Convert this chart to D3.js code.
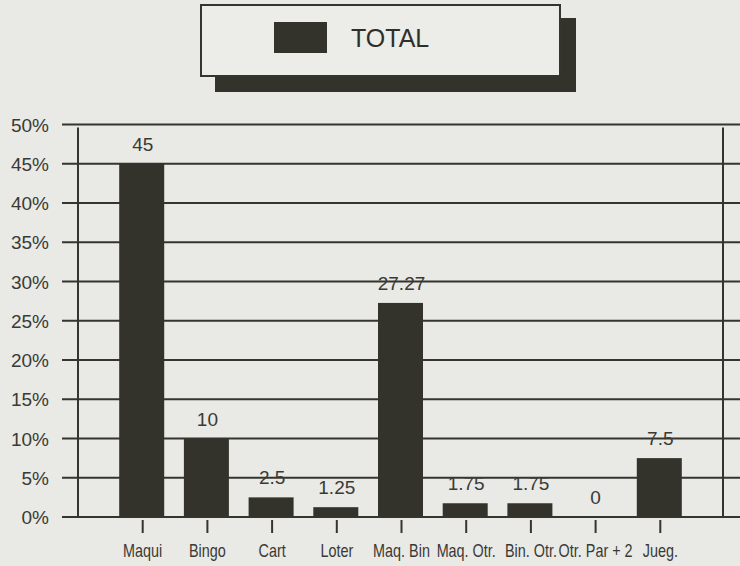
<!DOCTYPE html>
<html>
<head>
<meta charset="utf-8">
<script src="https://cdn.jsdelivr.net/npm/d3@7"></script>
<style>
  body { margin: 0; background: #e9e9e5; }
  svg { display: block; }
</style>
</head>
<body>
<script>
// chart data
var categories = ["Maqui", "Bingo", "Cart", "Loter", "Maq. Bin", "Maq. Otr.", "Bin. Otr.", "Otr. Par + 2", "Jueg."];
var values = [45, 10, 2.5, 1.25, 27.27, 1.75, 1.75, 0, 7.5];
var valueLabels = ["45", "10", "2.5", "1.25", "27.27", "1.75", "1.75", "0", "7.5"];
var yTicks = [0, 5, 10, 15, 20, 25, 30, 35, 40, 45, 50];
var seriesName = "TOTAL";

var W = 740, H = 566;
var ink = "#35352e";
var font = "Liberation Sans, Arial, sans-serif";

var svg = d3.select("body").append("svg")
    .attr("width", W)
    .attr("height", H);

// scales
var x = d3.scalePoint()
    .domain(categories)
    .range([78, 725])
    .padding(1);

var y = d3.scaleLinear()
    .domain([0, 50])
    .range([517, 124.5]);

var barW = 45;

// horizontal grid lines (from left labels to right edge)
svg.append("g").selectAll("line")
    .data(yTicks)
    .enter().append("line")
    .attr("x1", 62)
    .attr("x2", W)
    .attr("y1", function(d) { return y(d); })
    .attr("y2", function(d) { return y(d); })
    .attr("stroke", ink)
    .attr("stroke-width", 2);

// y tick labels
svg.append("g").selectAll("text")
    .data(yTicks)
    .enter().append("text")
    .attr("x", 49)
    .attr("y", function(d) { return y(d) + 7; })
    .attr("text-anchor", "end")
    .attr("font-family", font)
    .attr("font-size", 19)
    .attr("fill", "#3a3a35")
    .text(function(d) { return d + "%"; });

// left and right vertical frame lines
svg.append("line")
    .attr("x1", 78).attr("x2", 78)
    .attr("y1", y(50) + 3).attr("y2", y(0))
    .attr("stroke", ink).attr("stroke-width", 2);
svg.append("line")
    .attr("x1", 723).attr("x2", 723)
    .attr("y1", y(50) + 3).attr("y2", y(0))
    .attr("stroke", ink).attr("stroke-width", 2);

// bars
svg.append("g").selectAll("rect")
    .data(values)
    .enter().append("rect")
    .attr("x", function(d, i) { return x(categories[i]) - barW / 2 - 1; })
    .attr("y", function(d) { return y(d); })
    .attr("width", barW)
    .attr("height", function(d) { return y(0) - y(d); })
    .attr("fill", "#33332b");

// value labels
svg.append("g").selectAll("text")
    .data(values)
    .enter().append("text")
    .attr("x", function(d, i) { return x(categories[i]); })
    .attr("y", function(d) { return y(d) - 13; })
    .attr("text-anchor", "middle")
    .attr("font-family", font)
    .attr("font-size", 19)
    .attr("fill", "#3a3a35")
    .text(function(d, i) { return valueLabels[i]; });

// x ticks
svg.append("g").selectAll("line")
    .data(categories)
    .enter().append("line")
    .attr("x1", function(d) { return x(d); })
    .attr("x2", function(d) { return x(d); })
    .attr("y1", 520)
    .attr("y2", 533)
    .attr("stroke", ink)
    .attr("stroke-width", 2);

// x labels, condensed like the printed original
svg.append("g").selectAll("text")
    .data(categories)
    .enter().append("text")
    .attr("transform", function(d) { return "translate(" + x(d) + ",557) scale(0.8,1)"; })
    .attr("text-anchor", "middle")
    .attr("font-family", font)
    .attr("font-size", 18)
    .attr("fill", "#3a3a35")
    .text(function(d) { return d; });

// legend with drop shadow
var legend = svg.append("g");
legend.append("rect")
    .attr("x", 215).attr("y", 18)
    .attr("width", 361).attr("height", 74)
    .attr("fill", "#33332b");
legend.append("rect")
    .attr("x", 201).attr("y", 5)
    .attr("width", 359).attr("height", 71)
    .attr("fill", "#ececE8")
    .attr("stroke", ink)
    .attr("stroke-width", 2);
legend.append("rect")
    .attr("x", 274).attr("y", 22)
    .attr("width", 53).attr("height", 31)
    .attr("fill", "#33332b");
legend.append("text")
    .attr("x", 351).attr("y", 47)
    .attr("font-family", font)
    .attr("font-size", 25)
    .attr("fill", "#2f2f2a")
    .text(seriesName);
</script>
</body>
</html>
